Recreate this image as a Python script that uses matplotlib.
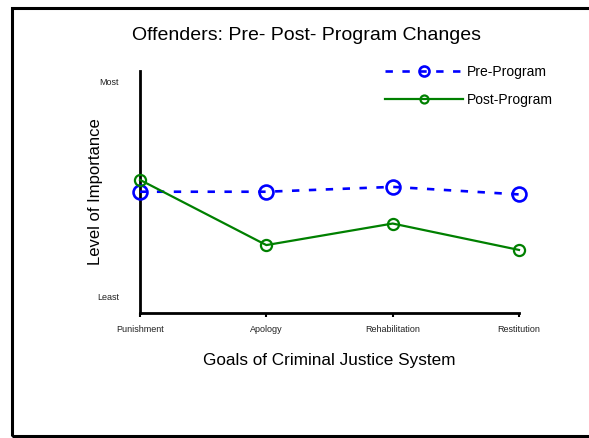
import matplotlib.pyplot as plt
from matplotlib.patches import Rectangle

plt.rcParams['font.family'] = ['Liberation Sans Narrow', 'Liberation Sans', 'DejaVu Sans']

# Data (1 = Least, 5 = Most)
goals = ["Punishment", "Apology", "Rehabilitation", "Restitution"]
pre_program = [2.95, 2.95, 3.04, 2.90]
post_program = [3.17, 1.96, 2.36, 1.87]
level_ticks = [1, 5]
level_labels = ["Least", "Most"]

W, H = 589, 438
fig = plt.figure(figsize=(W / 100, H / 100), dpi=100)

# frame around the slide
fig.patches.append(Rectangle((12 / W, 2 / H), 1.2, (436 - 8) / H,
                             transform=fig.transFigure, fill=False,
                             edgecolor='black', linewidth=2.2))

ax = fig.add_axes([140 / W, 1 - 313 / H, (519 - 140) / W, (313 - 71) / H])

x = list(range(len(goals)))
ax.plot(x, pre_program, color='#0000FF', linestyle=(0, (2.8, 3.6)), linewidth=1.9,
        marker='o', markersize=10, markerfacecolor='none', markeredgewidth=1.9,
        label="Pre-Program", clip_on=False, zorder=3)
ax.plot(x, post_program, color='#008000', linestyle='-', linewidth=1.6,
        marker='o', markersize=8, markerfacecolor='none', markeredgewidth=1.6,
        label="Post-Program", clip_on=False, zorder=3)

ax.set_xlim(0, 3)
ax.set_ylim(0.70, 5.19)
ax.set_xticks(x)
ax.set_xticklabels(goals, fontsize=6.5, color='#222222')
ax.set_yticks(level_ticks)
ax.set_yticklabels(level_labels, fontsize=6.5, color='#222222')
ax.tick_params(axis='y', length=0, pad=15)
ax.tick_params(axis='x', length=3, width=1.5, direction='out', pad=6)

for side in ['top', 'right']:
    ax.spines[side].set_visible(False)
for side in ['left', 'bottom']:
    ax.spines[side].set_linewidth(2)

ax.set_xlabel("Goals of Criminal Justice System", fontsize=12.3, labelpad=13)
ax.set_ylabel("Level of Importance", fontsize=12)
ax.yaxis.set_label_coords(-0.098, 0.5)

fig.text(306 / W, 1 - 35 / H, "Offenders: Pre- Post- Program Changes",
         fontsize=14, ha='center', va='center')

ax.legend(loc='upper left', bbox_to_anchor=(378 / W, 1 - 58 / H),
          bbox_transform=fig.transFigure, frameon=False, fontsize=10,
          handlelength=5.6, handletextpad=0.3, markerscale=0.72,
          labelspacing=1.0, borderpad=0)

fig.savefig("out.png", dpi=100)
